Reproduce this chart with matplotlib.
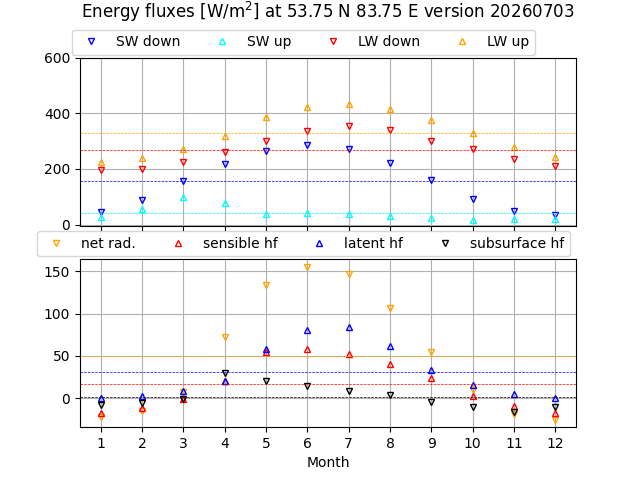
import numpy as np
import matplotlib
matplotlib.use("Agg")
import matplotlib.pyplot as plt

months = np.arange(1, 13)

sw_down = [46, 88, 158, 219, 266, 287, 270, 222, 159, 92, 49, 35]
sw_up = [28, 55, 98, 78, 39, 42, 39, 31, 24, 17, 20, 19]
lw_down = [195, 199, 223, 259, 299, 335, 353, 339, 302, 270, 235, 210]
lw_up = [226, 239, 271, 320, 387, 423, 434, 414, 376, 329, 278, 242]

net_rad = [-22.5, -14.6, 8, 72, 134, 155, 146, 107, 54.5, 10, -19, -25]
sensible = [-17.4, -11.5, -0.6, 21, 54.5, 58.5, 52.6, 40.7, 24, 3, -8.7, -17.8]
latent = [0.4, 2.4, 9, 21, 58.5, 81, 84, 62, 33.6, 16, 5, 1]
subsurface = [-7.5, -6, -1.2, 30, 20, 14.2, 9, 3.6, -4.7, -10.7, -16.6, -10]

title = "Energy fluxes [W/m$^2$] at 53.75 N 83.75 E version 20260703"

top_series = [("SW down", sw_down, "v", "blue"),
              ("SW up", sw_up, "^", "cyan"),
              ("LW down", lw_down, "v", "red"),
              ("LW up", lw_up, "^", "orange")]
bot_series = [("net rad.", net_rad, "v", "orange"),
              ("sensible hf", sensible, "^", "red"),
              ("latent hf", latent, "^", "blue"),
              ("subsurface hf", subsurface, "v", "black")]

fig, (ax1, ax2) = plt.subplots(2, 1, sharex=True, figsize=(6.4, 4.8), dpi=100)

for ax, series in ((ax1, top_series), (ax2, bot_series)):
    for label, vals, m, c in series:
        ax.plot(months, vals, linestyle="none", marker=m, mfc="none",
                mec=c, markersize=5, label=label)
    for label, vals, m, c in series:
        ax.axhline(np.mean(vals), color=c, linestyle="--", linewidth=0.5)
    ax.grid(True)
    ax.legend(loc="lower center", bbox_to_anchor=(0.45, 1.0), ncol=4,
              borderaxespad=0.2)

ax1.set_ylim(top=600)
ax2.set_xlim(0.5, 12.5)
ax2.set_xticks(months)
ax2.set_xlabel("Month")
ax1.set_title(title, y=1.185)

fig.savefig("out.png", dpi=100)
